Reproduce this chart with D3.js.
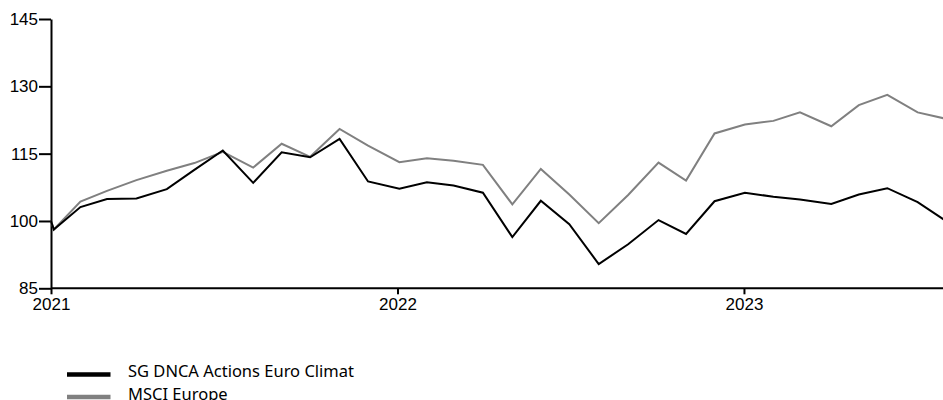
<!DOCTYPE html>
<html>
<head>
<meta charset="utf-8">
<script src="https://cdn.jsdelivr.net/npm/d3@7"></script>
<style>
  html, body { margin: 0; padding: 0; background: #fff; overflow: hidden; }
  svg { display: block; }
</style>
</head>
<body>
<div id="chart"></div>
<script>
// dates of each point (first trading day of the month)
var dates = ["2021-01-01", "2021-01-04", "2021-02-01", "2021-03-01", "2021-04-01", "2021-05-03",
             "2021-06-01", "2021-07-01", "2021-08-02", "2021-09-01", "2021-10-01", "2021-11-01",
             "2021-12-01", "2022-01-03", "2022-02-01", "2022-03-01", "2022-04-01", "2022-05-02",
             "2022-06-01", "2022-07-01", "2022-08-01", "2022-09-01", "2022-10-03", "2022-11-01",
             "2022-12-01", "2023-01-02", "2023-02-01", "2023-03-01", "2023-04-03", "2023-05-02",
             "2023-06-01", "2023-07-03", "2023-08-01"];

var fund = [100, 98.1, 103.1, 104.9, 105.0, 107.1, 111.4, 115.7, 108.5, 115.3, 114.2, 118.3,
            108.8, 107.2, 108.6, 107.9, 106.3, 96.4, 104.5, 99.3, 90.4, 94.8, 100.2, 97.1,
            104.4, 106.3, 105.4, 104.8, 103.8, 105.9, 107.3, 104.2, 100.1];

var index = [100, 98.1, 104.3, 106.7, 109.1, 111.2, 112.9, 115.4, 111.9, 117.2, 114.3, 120.5,
             116.8, 113.1, 114.0, 113.4, 112.5, 103.7, 111.6, 105.9, 99.5, 105.8, 113.0, 109.0,
             119.5, 121.5, 122.3, 124.2, 121.1, 125.8, 128.1, 124.2, 122.8];

var yTicks = [85, 100, 115, 130, 145];
var xTicks = ["2021-01-01", "2022-01-01", "2023-01-01"];

var seriesNames = ["SG DNCA Actions Euro Climat", "MSCI Europe"];
var seriesColors = ["#000000", "#808080"];

var w = 943, h = 400;
var parse = d3.timeParse("%Y-%m-%d");

var svg = d3.select("#chart")
            .append("svg")
            .attr("width", w)
            .attr("height", h);

var x = d3.scaleTime()
          .domain([parse("2021-01-01"), parse("2023-08-01")])
          .range([51, 945.2]);

var y = d3.scaleLinear()
          .domain([85, 145])
          .range([288.3, 19]);

// y axis
var yAxis = svg.append("g")
    .attr("transform", "translate(51,0)")
    .call(d3.axisLeft(y).tickValues(yTicks).tickSize(12).tickPadding(1).tickSizeOuter(0));
yAxis.selectAll("text")
    .attr("font-family", "Liberation Sans, Arial, sans-serif")
    .attr("font-size", "17px")
    .attr("fill", "#000");
yAxis.selectAll("line, path").attr("stroke", "#000").attr("stroke-width", 2);

// x axis
var xAxis = svg.append("g")
    .attr("transform", "translate(0,288.3)")
    .call(d3.axisBottom(x).tickValues(xTicks.map(parse)).tickFormat(d3.timeFormat("%Y"))
          .tickSize(6).tickPadding(4).tickSizeOuter(0));
xAxis.select("path").attr("d", "M51,0H" + w);
xAxis.selectAll("text")
    .attr("font-family", "Liberation Sans, Arial, sans-serif")
    .attr("font-size", "17px")
    .attr("fill", "#000");
xAxis.selectAll("line, path").attr("stroke", "#000").attr("stroke-width", 2);

var line = d3.line()
    .x(function(d) { return x(d.date); })
    .y(function(d) { return y(d.v); });

function rows(vals) {
    return dates.map(function(d, i) { return {date: parse(d), v: vals[i]}; });
}

// index first so the fund line sits on top
svg.append("path")
    .datum(rows(index))
    .attr("d", line)
    .attr("fill", "none")
    .attr("stroke", seriesColors[1])
    .attr("stroke-width", 2);

svg.append("path")
    .datum(rows(fund))
    .attr("d", line)
    .attr("fill", "none")
    .attr("stroke", seriesColors[0])
    .attr("stroke-width", 2);

// legend
var legend = svg.selectAll("g.legend")
    .data(seriesNames)
    .enter()
    .append("g")
    .attr("class", "legend")
    .attr("transform", function(d, i) { return "translate(0," + (374.5 + i * 22.5) + ")"; });

legend.append("line")
    .attr("x1", 67).attr("x2", 110.5)
    .attr("y1", 0).attr("y2", 0)
    .attr("stroke", function(d, i) { return seriesColors[i]; })
    .attr("stroke-width", 4.5);

legend.append("text")
    .attr("x", 128)
    .attr("y", 2.5)
    .text(function(d) { return d; })
    .attr("font-family", "Noto Sans, sans-serif")
    .attr("font-size", "16.5px")
    .attr("fill", "#000");
</script>
</body>
</html>
